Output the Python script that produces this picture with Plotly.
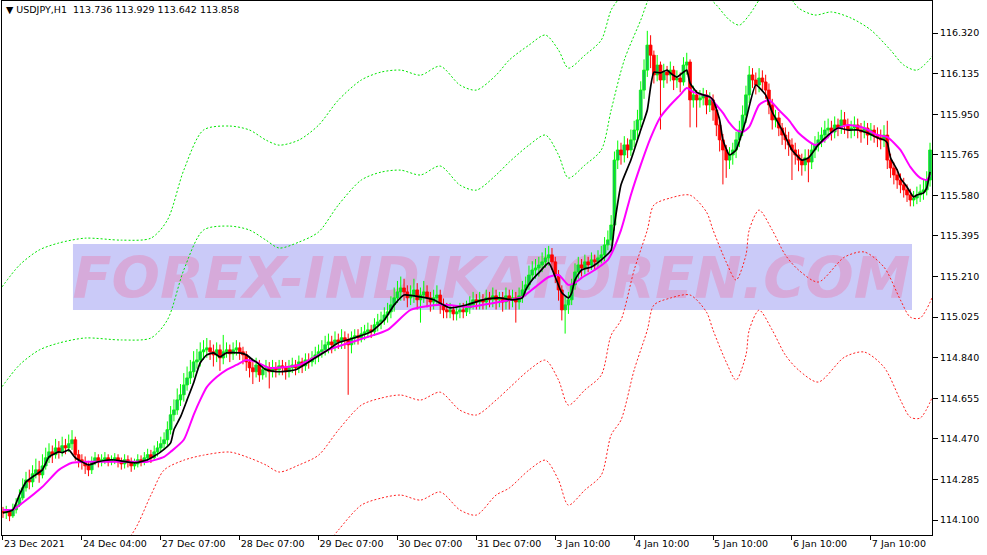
import plotly.graph_objects as go

# ---------------- data ----------------
close = [
114.133, 114.138, 114.119, 114.147, 114.170, 114.201, 114.247, 114.283, 114.274, 114.311,
114.329, 114.306, 114.347, 114.384, 114.411, 114.398, 114.429, 114.411, 114.439, 114.429,
114.448, 114.466, 114.398, 114.375, 114.366, 114.347, 114.329, 114.366, 114.384, 114.366,
114.375, 114.384, 114.366, 114.375, 114.384, 114.366, 114.356, 114.375, 114.366, 114.347,
114.356, 114.375, 114.366, 114.384, 114.398, 114.384, 114.411, 114.429, 114.448, 114.466,
114.512, 114.580, 114.602, 114.648, 114.671, 114.716, 114.748, 114.776, 114.821, 114.830,
114.867, 114.876, 114.885, 114.867, 114.853, 114.876, 114.839, 114.867, 114.876, 114.858,
114.876, 114.885, 114.867, 114.853, 114.821, 114.794, 114.776, 114.807, 114.762, 114.785,
114.794, 114.776, 114.794, 114.785, 114.803, 114.794, 114.776, 114.794, 114.807, 114.794,
114.821, 114.803, 114.830, 114.821, 114.839, 114.853, 114.867, 114.876, 114.899, 114.912,
114.899, 114.921, 114.912, 114.931, 114.921, 114.899, 114.931, 114.940, 114.931, 114.949,
114.958, 114.967, 114.958, 114.990, 115.003, 115.012, 115.035, 115.049, 115.081, 115.113,
115.140, 115.158, 115.140, 115.113, 115.126, 115.149, 115.104, 115.126, 115.140, 115.113,
115.094, 115.113, 115.126, 115.081, 115.058, 115.049, 115.058, 115.040, 115.049, 115.058,
115.049, 115.067, 115.081, 115.104, 115.094, 115.104, 115.094, 115.113, 115.104, 115.122,
115.104, 115.113, 115.094, 115.122, 115.104, 115.113, 115.094, 115.122, 115.149, 115.172,
115.217, 115.240, 115.249, 115.263, 115.277, 115.295, 115.309, 115.277, 115.217, 115.149,
115.058, 115.081, 115.104, 115.172, 115.231, 115.263, 115.249, 115.277, 115.263, 115.286,
115.277, 115.295, 115.309, 115.354, 115.377, 115.445, 115.741, 115.787, 115.764, 115.810,
115.787, 115.833, 115.878, 115.924, 116.060, 116.151, 116.265, 116.219, 116.129, 116.174,
116.106, 116.142, 116.129, 116.151, 116.106, 116.115, 116.097, 116.174, 116.188, 116.015,
116.038, 116.015, 116.024, 116.038, 115.992, 116.015, 115.969, 115.901, 115.833, 115.787,
115.741, 115.764, 115.787, 115.833, 115.878, 115.946, 116.038, 116.129, 116.106, 116.083,
116.115, 116.097, 116.060, 115.992, 115.924, 115.933, 115.887, 115.855, 115.833, 115.810,
115.787, 115.764, 115.741, 115.719, 115.751, 115.732, 115.787, 115.810, 115.833, 115.855,
115.878, 115.887, 115.869, 115.901, 115.887, 115.924, 115.901, 115.878, 115.887, 115.901,
115.878, 115.869, 115.887, 115.855, 115.878, 115.855, 115.842, 115.833, 115.855, 115.741,
115.705, 115.673, 115.650, 115.628, 115.605, 115.582, 115.559, 115.568, 115.582, 115.596,
115.605, 115.650, 115.787]

high = [
114.160, 114.165, 114.150, 114.175, 114.200, 114.240, 114.290, 114.320, 114.330, 114.350,
114.380, 114.370, 114.400, 114.430, 114.450, 114.440, 114.470, 114.460, 114.480, 114.470,
114.490, 114.510, 114.480, 114.420, 114.400, 114.390, 114.370, 114.390, 114.410, 114.400,
114.400, 114.410, 114.400, 114.395, 114.405, 114.400, 114.385, 114.400, 114.395, 114.385,
114.380, 114.400, 114.395, 114.410, 114.425, 114.420, 114.440, 114.460, 114.480, 114.500,
114.550, 114.620, 114.650, 114.700, 114.720, 114.770, 114.800, 114.830, 114.870, 114.880,
114.910, 114.920, 114.930, 114.920, 114.900, 114.910, 114.900, 114.944, 114.910, 114.900,
114.910, 114.920, 114.910, 114.890, 114.870, 114.840, 114.820, 114.840, 114.830, 114.810,
114.830, 114.820, 114.830, 114.820, 114.830, 114.830, 114.820, 114.830, 114.840, 114.830,
114.850, 114.840, 114.860, 114.860, 114.870, 114.890, 114.900, 114.920, 114.940, 114.950,
114.940, 114.960, 114.950, 114.970, 114.960, 114.950, 114.960, 114.970, 114.970, 114.980,
114.990, 115.000, 114.990, 115.020, 115.040, 115.050, 115.070, 115.090, 115.120, 115.160,
115.190, 115.210, 115.200, 115.170, 115.170, 115.200, 115.180, 115.160, 115.190, 115.170,
115.140, 115.150, 115.170, 115.150, 115.110, 115.090, 115.090, 115.080, 115.080, 115.090,
115.090, 115.100, 115.120, 115.140, 115.130, 115.140, 115.130, 115.150, 115.140, 115.160,
115.150, 115.140, 115.140, 115.160, 115.150, 115.150, 115.140, 115.160, 115.190, 115.210,
115.260, 115.280, 115.290, 115.300, 115.320, 115.340, 115.350, 115.340, 115.300, 115.240,
115.170, 115.120, 115.140, 115.200, 115.270, 115.300, 115.290, 115.310, 115.300, 115.320,
115.310, 115.330, 115.350, 115.390, 115.420, 115.490, 115.780, 115.830, 115.820, 115.850,
115.840, 115.880, 115.920, 115.970, 116.100, 116.200, 116.330, 116.310, 116.240, 116.220,
116.190, 116.180, 116.170, 116.190, 116.170, 116.150, 116.140, 116.210, 116.230, 116.200,
116.080, 116.060, 116.060, 116.070, 116.060, 116.050, 116.040, 115.990, 115.920, 115.860,
115.810, 115.800, 115.820, 115.870, 115.920, 115.990, 116.080, 116.170, 116.160, 116.140,
116.160, 116.150, 116.130, 116.090, 116.020, 115.970, 115.960, 115.910, 115.890, 115.870,
115.840, 115.820, 115.790, 115.770, 115.790, 115.790, 115.820, 115.850, 115.870, 115.890,
115.920, 115.930, 115.920, 115.940, 115.930, 115.970, 115.960, 115.930, 115.920, 115.940,
115.930, 115.910, 115.920, 115.910, 115.910, 115.900, 115.890, 115.880, 115.900, 115.920,
115.770, 115.730, 115.700, 115.680, 115.660, 115.630, 115.610, 115.600, 115.620, 115.630,
115.650, 115.690, 115.820]

low = [
114.110, 114.105, 114.095, 114.110, 114.130, 114.160, 114.190, 114.230, 114.240, 114.250,
114.290, 114.270, 114.290, 114.330, 114.360, 114.360, 114.380, 114.380, 114.390, 114.400,
114.410, 114.420, 114.370, 114.340, 114.330, 114.310, 114.300, 114.310, 114.350, 114.340,
114.345, 114.355, 114.345, 114.350, 114.355, 114.340, 114.330, 114.335, 114.340, 114.320,
114.330, 114.340, 114.345, 114.350, 114.365, 114.360, 114.370, 114.390, 114.410, 114.420,
114.440, 114.490, 114.550, 114.580, 114.620, 114.640, 114.690, 114.720, 114.750, 114.790,
114.800, 114.830, 114.840, 114.830, 114.800, 114.820, 114.780, 114.810, 114.840, 114.820,
114.830, 114.850, 114.830, 114.810, 114.780, 114.750, 114.720, 114.750, 114.730, 114.740,
114.750, 114.700, 114.750, 114.750, 114.760, 114.760, 114.740, 114.750, 114.770, 114.760,
114.770, 114.770, 114.780, 114.790, 114.800, 114.810, 114.820, 114.840, 114.850, 114.860,
114.860, 114.870, 114.880, 114.880, 114.880, 114.671, 114.860, 114.900, 114.900, 114.910,
114.920, 114.930, 114.930, 114.940, 114.960, 114.970, 114.990, 115.000, 115.020, 115.050,
115.090, 115.100, 115.100, 115.070, 115.080, 115.090, 115.060, 115.000, 115.090, 115.070,
115.050, 115.060, 115.080, 115.040, 115.020, 115.020, 115.020, 115.010, 115.010, 115.020,
115.020, 115.030, 115.040, 115.060, 115.060, 115.060, 115.060, 115.060, 115.070, 115.070,
115.060, 115.070, 115.050, 115.060, 115.060, 115.070, 115.000, 115.060, 115.090, 115.120,
115.150, 115.190, 115.200, 115.210, 115.230, 115.250, 115.260, 115.240, 115.180, 115.100,
115.010, 114.950, 115.040, 115.080, 115.150, 115.200, 115.210, 115.220, 115.230, 115.240,
115.240, 115.250, 115.270, 115.280, 115.330, 115.350, 115.420, 115.700, 115.720, 115.730,
115.750, 115.760, 115.800, 115.840, 115.890, 116.020, 116.120, 116.160, 116.090, 116.100,
115.880, 116.070, 116.090, 116.100, 116.060, 116.070, 116.050, 116.080, 116.130, 115.890,
115.980, 115.890, 115.980, 115.990, 115.950, 115.960, 115.920, 115.850, 115.780, 115.630,
115.660, 115.700, 115.720, 115.750, 115.800, 115.850, 115.910, 116.000, 116.070, 116.040,
116.050, 116.060, 116.020, 115.950, 115.880, 115.890, 115.850, 115.810, 115.790, 115.760,
115.650, 115.720, 115.690, 115.670, 115.690, 115.640, 115.700, 115.750, 115.780, 115.800,
115.820, 115.840, 115.830, 115.840, 115.850, 115.860, 115.860, 115.840, 115.840, 115.850,
115.840, 115.820, 115.840, 115.810, 115.830, 115.820, 115.800, 115.790, 115.800, 115.700,
115.660, 115.630, 115.610, 115.590, 115.570, 115.550, 115.530, 115.530, 115.540, 115.550,
115.560, 115.580, 115.620]

first_open = 114.140

# fast moving average (black) sampled at bar indices
fast_idx = [0,3,5,7,9,12,14,17,18,20,22,26,29,33,40,44,48,51,52,54,56,58,60,62,64,66,68,72,74,76,
            77,80,84,89,93,98,102,107,112,116,119,122,127,131,136,141,146,151,155,158,159,161,163,166,168,
            170,172,173,174,176,179,182,185,186,188,191,194,196,197,198,200,202,203,205,207,208,209,211,213,215,
            216,218,219,221,223,226,229,232,234,237,240,243,245,248,251,254,257,260,263,266,268,269,270,272,273,
            275,277,278,280,281,282]
fast_val = [114.133,114.147,114.215,114.274,114.297,114.329,114.388,114.411,114.407,114.420,
            114.384,114.352,114.366,114.375,114.361,114.375,114.411,114.452,114.512,114.570,
            114.648,114.726,114.817,114.853,114.862,114.844,114.862,114.862,114.853,114.830,
            114.821,114.785,114.776,114.785,114.821,114.867,114.908,114.931,114.958,115.012,
            115.081,115.126,115.117,115.104,115.067,115.081,115.104,115.113,115.104,115.113,
            115.149,115.195,115.227,115.272,115.208,115.136,115.113,115.136,115.195,115.240,
            115.254,115.286,115.331,115.445,115.628,115.741,115.878,115.969,116.074,116.142,
            116.138,116.151,116.138,116.119,116.142,116.151,116.092,116.051,116.038,116.029,
            116.015,115.924,115.833,115.764,115.787,115.924,116.083,116.038,115.960,115.878,
            115.787,115.741,115.751,115.810,115.855,115.887,115.878,115.878,115.864,115.842,
            115.833,115.819,115.751,115.696,115.659,115.618,115.573,115.582,115.591,115.614,
            115.687]

# slow moving average (magenta)
slow_idx = [0,3,6,12,17,21,26,32,40,44,49,51,55,58,60,62,65,68,71,74,
            77,81,90,99,108,117,124,133,142,146,151,158,162,166,169,172,174,176,180,184,
            188,191,194,197,200,203,206,208,210,213,215,217,219,221,223,225,227,230,233,236,
            239,242,247,250,253,257,262,266,269,273,276,279,281,282]
slow_val = [114.147,114.147,114.179,114.252,114.329,114.361,114.366,114.366,114.366,114.366,
            114.388,114.411,114.466,114.580,114.648,114.706,114.752,114.785,114.807,114.830,
            114.821,114.794,114.807,114.876,114.921,114.967,115.058,115.081,115.072,115.081,
            115.094,115.117,115.163,115.208,115.217,115.172,115.181,115.204,115.240,115.286,
            115.422,115.582,115.719,115.842,115.937,115.992,116.038,116.069,116.051,116.038,
            116.029,115.992,115.956,115.910,115.878,115.869,115.892,115.992,116.015,115.969,
            115.924,115.864,115.810,115.833,115.878,115.901,115.887,115.855,115.846,115.787,
            115.710,115.660,115.650,115.673]

# upper (green) bands
up1_idx = [-1,5,11,17,25,36,45,50,55,61,69,75,80,84,90,96,102,109,115,121,127,133,139,144,150,154,160,165,169,172,
           177,182,185,189,194,197,206,214,217,221,224,227,231,235,239,242,247,252,258,264,270,274,278,283]
up1_val = [114.693,114.807,114.875,114.907,114.930,114.921,114.930,115.012,115.240,115.422,115.440,115.422,115.376,
           115.340,115.367,115.413,115.536,115.650,115.686,115.695,115.673,115.714,115.627,115.604,115.673,115.732,
           115.809,115.855,115.764,115.659,115.718,115.787,115.969,116.197,116.379,116.493,116.653,116.493,116.448,
           116.379,116.356,116.402,116.493,116.561,116.493,116.434,116.402,116.416,116.388,116.334,116.242,116.174,
           116.151,116.219]
up2_idx = [-1,5,11,17,25,36,45,50,55,61,69,75,80,84,90,96,102,109,115,121,127,133,139,144,150,154,160,165,169,172,
           177,182,185,188,195]
up2_val = [115.148,115.262,115.331,115.363,115.385,115.376,115.385,115.467,115.695,115.878,115.896,115.878,115.832,
           115.809,115.832,115.900,116.014,116.106,116.142,116.151,116.128,116.169,116.083,116.060,116.128,116.197,
           116.265,116.311,116.242,116.160,116.219,116.288,116.425,116.493,116.744]

# lower (red) bands
dn1_idx = [29,39,45,49,55,61,69,75,80,84,90,96,102,109,115,121,127,133,139,144,150,154,160,165,169,172,177,182,185,
           188,192,196,198,203,209,214,216,220,223,226,227,230,234,238,242,248,256,262,268,273,276,279,283]
dn1_val = [113.918,114.032,114.214,114.328,114.373,114.396,114.410,114.383,114.351,114.319,114.351,114.396,114.510,
           114.624,114.656,114.670,114.647,114.683,114.601,114.579,114.647,114.702,114.784,114.829,114.738,114.624,
           114.693,114.761,114.943,115.012,115.240,115.422,115.536,115.568,115.581,115.504,115.422,115.276,115.194,
           115.308,115.422,115.513,115.422,115.308,115.240,115.185,115.299,115.322,115.253,115.103,115.025,115.021,
           115.126]
dn2_idx = [96,102,109,115,121,127,133,139,144,150,154,160,165,169,172,177,182,185,188,192,196,198,203,209,214,216,
           220,223,226,227,230,234,238,242,248,256,262,268,273,276,279,283]
dn2_val = [113.940,114.054,114.168,114.200,114.214,114.191,114.228,114.146,114.123,114.214,114.246,114.328,114.373,
           114.282,114.168,114.237,114.305,114.488,114.556,114.784,114.966,115.080,115.112,115.126,115.048,114.966,
           114.820,114.738,114.852,114.966,115.057,114.966,114.852,114.784,114.729,114.843,114.866,114.797,114.647,
           114.569,114.565,114.670]

tick_bars = [0, 24, 48, 72, 96, 120, 144, 168, 192, 216, 240, 264]
tick_text = ["23 Dec 2021", "24 Dec 04:00", "27 Dec 07:00", "28 Dec 07:00", "29 Dec 07:00",
             "30 Dec 07:00", "31 Dec 07:00", "3 Jan 10:00", "4 Jan 10:00", "5 Jan 10:00",
             "6 Jan 10:00", "7 Jan 10:00"]
price_ticks = [114.100, 114.285, 114.470, 114.655, 114.840, 115.025, 115.210,
               115.395, 115.580, 115.765, 115.950, 116.135, 116.320]

header = "USDJPY,H1  113.736 113.929 113.642 113.858"
watermark = "FOREX-INDIKATOREN.COM"

# ---------------- build ----------------
n = len(close)
bars = list(range(n))
opens = [first_open] + close[:-1]
highs = [max(h, o, c) for h, o, c in zip(high, opens, close)]
lows = [min(l, o, c) for l, o, c in zip(low, opens, close)]

FONT = "DejaVu Sans"
UP_COL = "#00ff00"
UP_FILL = "#2a7fa8"
DN_COL = "#ff0000"
fig = go.Figure()

# watermark text on base (hidden) axes so all data is drawn over it
fig.add_trace(go.Scatter(
    x=[0.5263], y=[0.470], mode="text", text=[watermark],
    textposition="middle center",
    textfont=dict(family=FONT, size=57, color="rgb(214,170,218)", weight="bold", style="italic"),
    xaxis="x", yaxis="y", hoverinfo="skip", showlegend=False))

band_line = dict(width=1, dash="2px,2px", shape="spline", smoothing=0.8)
for idx, val, col in [(up1_idx, up1_val, "#00e600"), (up2_idx, up2_val, "#00e600"),
                      (dn1_idx, dn1_val, "#ff2020"), (dn2_idx, dn2_val, "#ff2020")]:
    fig.add_trace(go.Scatter(x=idx, y=val, mode="lines", line=dict(color=col, **band_line),
                             xaxis="x2", yaxis="y2", hoverinfo="skip", showlegend=False))

# candles: wicks + bodies
for is_up, col, fill in [(True, UP_COL, UP_FILL), (False, DN_COL, DN_COL)]:
    wx, wy, bx, bb, bh = [], [], [], [], []
    for i in bars:
        o, c = opens[i], close[i]
        if (c >= o) != is_up:
            continue
        wx += [i, i, None]
        wy += [lows[i], highs[i], None]
        bx.append(i)
        bb.append(min(o, c))
        bh.append(max(abs(c - o), 0.003))
    fig.add_trace(go.Scatter(x=wx, y=wy, mode="lines", line=dict(color=col, width=1),
                             xaxis="x2", yaxis="y2", hoverinfo="skip", showlegend=False))
    fig.add_trace(go.Bar(x=bx, y=bh, base=bb, width=0.85,
                         marker=dict(color=fill, line=dict(width=0.8, color=col)),
                         xaxis="x2", yaxis="y2", hoverinfo="skip", showlegend=False))

fig.add_trace(go.Scatter(x=slow_idx, y=slow_val, mode="lines",
                         line=dict(color="#ff00ff", width=2, shape="spline", smoothing=0.6),
                         xaxis="x2", yaxis="y2", hoverinfo="skip", showlegend=False))
fig.add_trace(go.Scatter(x=fast_idx, y=fast_val, mode="lines",
                         line=dict(color="#000000", width=1.7, shape="spline", smoothing=0.5),
                         xaxis="x2", yaxis="y2", hoverinfo="skip", showlegend=False))

fig.update_layout(
    width=987, height=555, autosize=False,
    margin=dict(l=2, r=55, t=1, b=20),
    paper_bgcolor="white", plot_bgcolor="white",
    font=dict(family=FONT, size=10, color="black"),
    showlegend=False, barmode="overlay",
    xaxis=dict(range=[0, 1], visible=False, fixedrange=True),
    yaxis=dict(range=[0, 1], visible=False, fixedrange=True),
    xaxis2=dict(overlaying="x", anchor="y2", side="bottom", range=[-0.3, 282.6],
                tickmode="array", tickvals=tick_bars, ticktext=tick_text,
                ticks="outside", ticklen=4, tickcolor="black", ticklabelposition="outside right",
                showline=True, linecolor="black", linewidth=1, mirror=True,
                showgrid=False, zeroline=False,
                tickfont=dict(family=FONT, size=9.5, color="black")),
    yaxis2=dict(overlaying="y", anchor="x2", side="right", range=[114.032, 116.466],
                tickmode="array", tickvals=price_ticks, ticktext=[f"{v:.3f}" for v in price_ticks],
                ticks="outside", ticklen=5, tickcolor="black",
                showline=True, linecolor="black", linewidth=1, mirror=True,
                showgrid=False, zeroline=False,
                tickfont=dict(family=FONT, size=9.5, color="black")),
    shapes=[dict(type="rect", xref="paper", yref="paper", x0=0.0763, x1=0.9785, y0=0.4213, y1=0.545,
                 fillcolor="rgb(202,202,248)", line=dict(width=0), layer="below")],
    annotations=[
        dict(xref="paper", yref="paper", x=0.002, y=0.985, xanchor="left", yanchor="middle",
             text="\u25bc\u00a0" + header.replace(" ", "\u00a0"), showarrow=False,
             font=dict(family=FONT, size=9.5, color="black"))
    ],
)

fig.write_html("out.html", config={"displayModeBar": False, "staticPlot": True},
               post_script="document.body.style.margin='0';document.body.style.overflow='hidden';")
